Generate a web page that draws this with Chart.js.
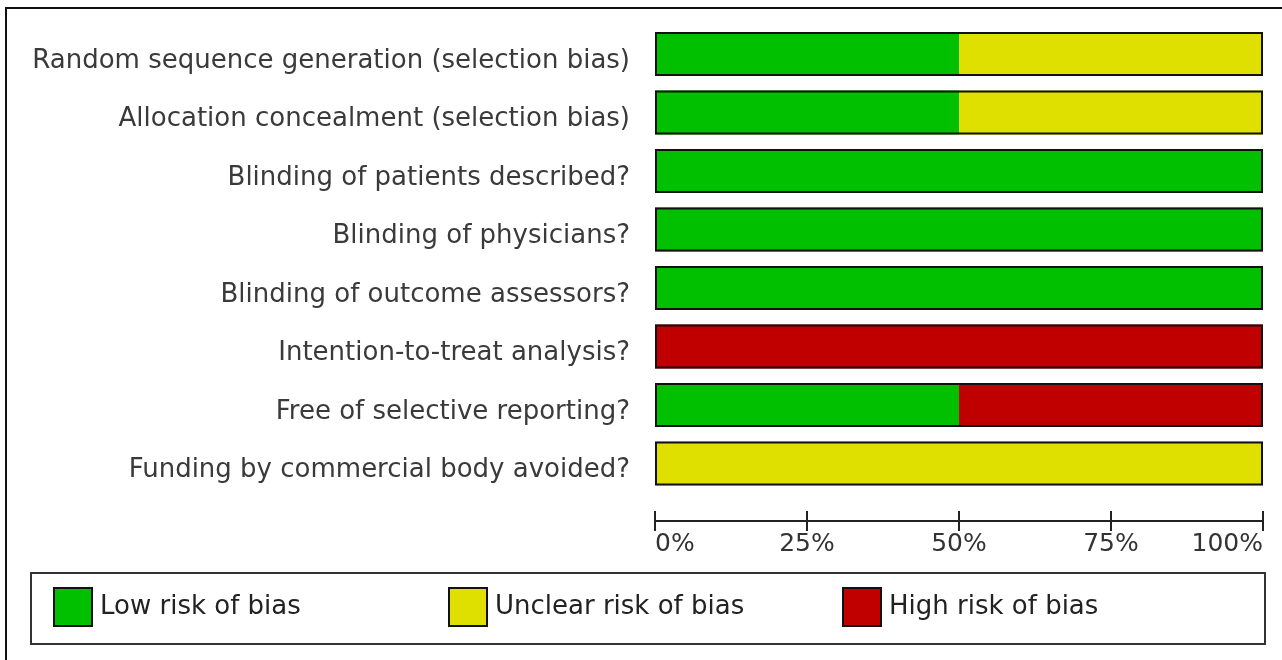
<!DOCTYPE html>
<html>
<head>
<meta charset="utf-8">
<script src="https://cdn.jsdelivr.net/npm/chart.js@4"></script>
<style>
  html, body { margin: 0; padding: 0; background: #fff; }
  #wrap { width: 1282px; height: 660px; position: relative; }
</style>
</head>
<body>
<div id="wrap"><canvas id="chart" width="1282" height="660"></canvas></div>
<script>
// dữ liệu
const domains = [
    'Random sequence generation (selection bias)',
    'Allocation concealment (selection bias)',
    'Blinding of patients described?',
    'Blinding of physicians?',
    'Blinding of outcome assessors?',
    'Intention-to-treat analysis?',
    'Free of selective reporting?',
    'Funding by commercial body avoided?'
];
const lowRisk     = [50, 50, 100, 100, 100, 0, 50, 0];
const unclearRisk = [50, 50, 0, 0, 0, 0, 0, 100];
const highRisk    = [0, 0, 0, 0, 0, 100, 50, 0];
const xTicks = [0, 25, 50, 75, 100];

const FONT = '"DejaVu Sans", sans-serif';

// khung ngoài + viền bar + trục x + chú thích
const robPlugin = {
    id: 'rob',
    afterDatasetsDraw(chart) {
        const ctx = chart.ctx;
        const x = chart.scales.x;
        const meta = chart.getDatasetMeta(0);
        ctx.save();

        // viền đen quanh mỗi thanh
        ctx.strokeStyle = '#111';
        ctx.lineWidth = 2;
        meta.data.forEach((bar, i) => {
            const total = chart.data.datasets.reduce((s, d) => s + d.data[i], 0);
            const x0 = x.getPixelForValue(0);
            const x1 = x.getPixelForValue(total);
            const h = bar.height;
            ctx.strokeRect(x0 + 1, bar.y - h / 2 + 1, x1 - x0 - 2, h - 2);
        });

        // trục x
        const axisY = 521;
        ctx.strokeStyle = '#222';
        ctx.lineWidth = 2;
        ctx.beginPath();
        ctx.moveTo(x.getPixelForValue(0), axisY);
        ctx.lineTo(x.getPixelForValue(100), axisY);
        ctx.stroke();
        ctx.font = '25px ' + FONT;
        ctx.fillStyle = '#333';
        ctx.textBaseline = 'middle';
        xTicks.forEach((t, i) => {
            const px = x.getPixelForValue(t);
            ctx.beginPath();
            ctx.moveTo(px, axisY - 10);
            ctx.lineTo(px, axisY + 10);
            ctx.stroke();
            ctx.textAlign = i === 0 ? 'left' : (i === xTicks.length - 1 ? 'right' : 'center');
            ctx.fillText(t + '%', px, axisY + 23);
        });

        // khung ngoài (chỉ trái và trên)
        ctx.strokeStyle = '#111';
        ctx.lineWidth = 2;
        ctx.beginPath();
        ctx.moveTo(6, 660);
        ctx.lineTo(6, 8);
        ctx.lineTo(1282, 8);
        ctx.stroke();

        // chú thích
        ctx.font = '26px ' + FONT;
        ctx.strokeStyle = '#333';
        ctx.lineWidth = 2;
        ctx.strokeRect(31, 573, 1234, 71);
        const legendX = [54, 449, 843];
        chart.data.datasets.forEach((ds, i) => {
            const lx = legendX[i];
            ctx.fillStyle = ds.backgroundColor;
            ctx.fillRect(lx, 588, 38, 38);
            ctx.strokeStyle = '#111';
            ctx.strokeRect(lx, 588, 38, 38);
            ctx.fillStyle = '#222';
            ctx.textAlign = 'left';
            ctx.fillText(ds.label, lx + 46, 607);
        });

        ctx.restore();
    }
};

new Chart(document.getElementById('chart'), {
    type: 'bar',
    data: {
        labels: domains,
        datasets: [
            { label: 'Low risk of bias', data: lowRisk, backgroundColor: '#00c000' },
            { label: 'Unclear risk of bias', data: unclearRisk, backgroundColor: '#e0e000' },
            { label: 'High risk of bias', data: highRisk, backgroundColor: '#c00000' }
        ]
    },
    options: {
        indexAxis: 'y',
        responsive: false,
        animation: false,
        layout: { padding: { left: 0, right: 19, top: 24.75, bottom: 167.25 } },
        datasets: { bar: { barPercentage: 0.752, categoryPercentage: 1, borderWidth: 0 } },
        scales: {
            x: { stacked: true, min: 0, max: 100, display: false },
            y: {
                stacked: true,
                grid: { display: false },
                border: { display: false },
                ticks: { color: '#3a3a3a', padding: 17, labelOffset: 7, font: { family: FONT, size: 26 } },
                afterFit(scale) {
                    scale.width = 655;
                    scale.paddingTop = 0;
                    scale.paddingBottom = 0;
                }
            }
        },
        plugins: { legend: { display: false }, tooltip: { enabled: false } }
    },
    plugins: [robPlugin]
});
</script>
</body>
</html>
